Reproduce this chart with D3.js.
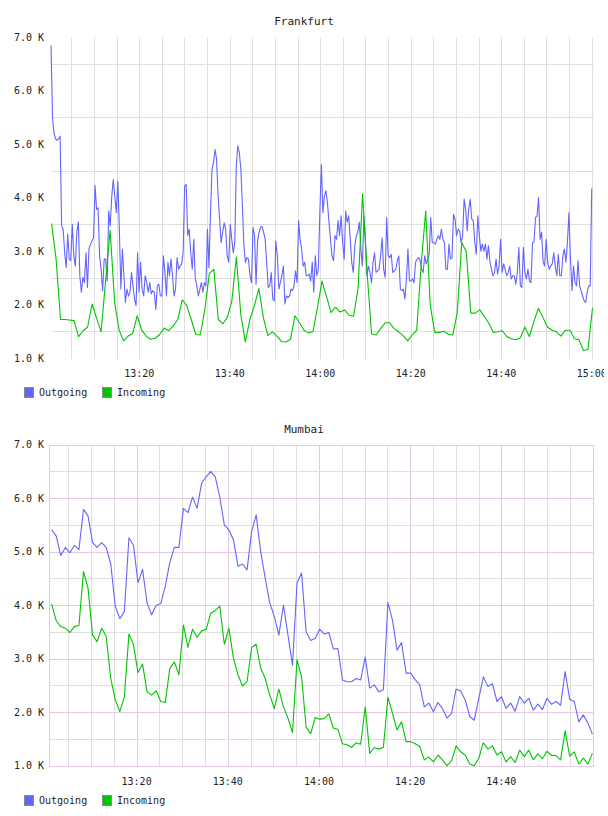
<!DOCTYPE html>
<html>
<head>
<meta charset="utf-8">
<script src="https://cdn.jsdelivr.net/npm/d3@7"></script>
<style>
body { margin: 0; background: #fff; }
svg { display: block; }
text { font-family: "DejaVu Sans Mono", monospace; fill: #222; }
</style>
</head>
<body>
<div class="viz"></div>
<script>
// values in thousands (K)
var seriesNames = ["Outgoing", "Incoming"];
var yTicks = [1, 2, 3, 4, 5, 6, 7];
var fraTicks = ["13:20", "13:40", "14:00", "14:20", "14:40", "15:00"];
var mumTicks = ["13:20", "13:40", "14:00", "14:20", "14:40"];

// first / last sample time of each series, samples evenly spaced in between
var fraOutSpan = ["13:00:30", "15:00:00"];
var fraInSpan = ["13:00:37", "15:00:10"];
var mumSpan = ["13:01:22", "14:59:59"];

var fraOutgoing = [6.85, 5.5, 5.2, 5.1, 5.07, 5.1, 5.15,
  3.47, 3.41, 2.97, 2.69, 3.32, 2.85, 2.82, 3.50, 2.91, 2.72,
  3.35, 3.55, 2.54, 2.23, 2.51, 2.41, 2.97, 2.32, 3.04, 3.13,
  3.19, 3.25, 4.23, 3.78, 3.81, 2.91, 2.66, 2.26, 2.85, 2.85,
  2.44, 3.75, 3.47, 4.03, 4.34, 4.03, 3.72, 4.31, 3.41, 2.29,
  3.04, 2.54, 2.04, 2.29, 2.16, 2.23, 2.60, 2.35, 2.10, 1.98,
  2.97, 2.23, 2.79, 2.29, 2.16, 2.54, 2.41, 2.23, 2.41, 2.20,
  2.26, 2.23, 1.91, 2.35, 2.38, 2.16, 2.16, 2.91, 2.60, 2.16,
  2.79, 2.54, 2.85, 2.54, 2.16, 2.29, 2.88, 2.66, 2.72, 2.76,
  2.97, 4.22, 4.25,
  3.29, 3.41, 2.97, 2.66, 3.22, 2.48, 2.35, 2.16, 2.29, 2.41,
  2.23, 2.41, 2.35, 3.41, 2.69, 3.72, 4.53, 4.66, 4.90, 4.72,
  4.03, 3.60, 3.16, 3.35, 3.53, 3.41, 2.91, 2.79, 3.50, 3.22,
  2.97, 3.16, 4.59, 4.97, 4.84, 4.53, 3.85, 3.10, 2.79, 2.88,
  2.85, 2.54, 2.41, 3.44, 3.29, 2.38, 3.19, 3.35, 3.45, 3.46,
  3.35, 3.22, 2.79, 2.32, 2.35, 2.60, 2.10, 2.07, 3.19, 2.91,
  2.29, 2.41, 2.54, 2.72, 2.01, 2.16, 2.13, 2.16, 2.29, 2.26,
  2.35, 2.63, 2.41, 3.57, 3.22, 3.04, 2.72, 2.79, 2.54, 2.54,
  2.57, 2.44, 2.79, 2.23, 2.91, 2.54, 2.66, 3.72, 4.62, 3.72,
  4.03,
  4.13, 3.91, 3.54, 3.22, 2.91, 2.82, 3.29, 3.22, 3.57, 3.29,
  3.66, 3.16, 2.85, 3.75, 3.54, 3.66, 3.22, 2.79, 2.60, 3.10,
  3.29, 3.35, 3.54, 3.04, 2.72, 3.66, 3.22, 2.54, 2.72, 2.60,
  2.41, 2.79, 2.97, 2.60, 2.63, 2.66, 2.91, 3.25, 2.66, 2.51,
  3.63, 2.91, 2.88, 2.94, 2.60, 2.63, 2.66, 2.82, 2.91, 2.29,
  2.26, 2.29, 2.10, 2.48, 3.04, 2.44, 2.44, 2.48, 2.41, 2.79,
  2.85, 2.88, 2.82, 2.66, 2.60, 2.91, 2.76, 2.85, 2.94, 3.63,
  3.16, 3.16, 3.13, 3.22, 3.29, 3.22, 3.41, 3.22, 3.16, 2.66,
  2.66, 3.13, 2.85, 2.88, 3.69, 3.60, 3.29, 3.41, 3.38,
  3.16, 3.29, 3.97, 3.78, 3.38, 3.78, 3.97, 3.60, 3.57, 3.16,
  2.94, 3.66, 3.29, 3.00, 3.13, 3.00, 3.13, 2.85, 3.10, 2.79,
  2.66, 2.54, 2.60, 2.85, 2.57, 2.72, 3.22, 2.60, 2.76, 2.66,
  2.54, 2.60, 2.72, 2.48, 2.54, 2.54, 2.38, 2.60, 3.07, 2.35,
  2.32, 3.07, 2.60, 2.48, 2.66, 2.44, 2.41, 3.16, 3.17, 3.63,
  3.66, 4.00, 3.22, 3.35, 2.79, 2.72, 3.22, 2.79, 2.66, 2.72,
  2.76, 2.97, 2.72, 2.54, 2.94, 2.54, 2.54, 2.91, 3.04, 2.79,
  3.16, 3.72, 2.85, 2.26, 2.72, 2.41, 2.35, 2.82, 2.35, 2.26,
  2.16, 2.07, 2.04, 2.23, 2.35, 2.35, 4.17];

var fraIncoming = [3.52, 2.86, 1.72, 1.72, 1.71, 1.70, 1.40, 1.51, 1.58, 2.01,
  1.74, 1.49, 2.45, 3.39, 2.04, 1.52, 1.32, 1.41, 1.46, 1.79,
  1.52, 1.41, 1.35, 1.37, 1.44, 1.56, 1.51, 1.60, 1.72, 2.09,
  1.98, 1.72, 1.44, 1.43, 1.90, 2.58, 2.66, 1.72, 1.64, 1.76,
  2.07, 2.89, 1.80, 1.30, 1.72, 1.98, 2.30, 1.75, 1.42, 1.49,
  1.41, 1.31, 1.30, 1.35, 1.79, 1.66, 1.52, 1.47, 1.49, 1.95,
  2.44, 2.15, 1.85, 1.95, 1.86, 1.90, 1.80, 1.78, 2.30, 4.07,
  2.60, 1.45, 1.43, 1.55, 1.66, 1.66, 1.55, 1.49, 1.42, 1.32,
  1.43, 1.52, 2.75, 3.75, 2.00, 1.48, 1.48, 1.50, 1.45, 1.43,
  1.85, 3.16, 2.99, 1.84, 1.84, 1.90, 1.78, 1.65, 1.48, 1.49,
  1.51, 1.40, 1.36, 1.34, 1.38, 1.58, 1.40, 1.68, 1.93, 1.76,
  1.58, 1.52, 1.49, 1.41, 1.52, 1.52, 1.36, 1.34, 1.14, 1.16,
  1.94];

var mumOutgoing = [5.41, 5.29, 4.93, 5.08, 4.98, 5.12, 5.04, 5.79, 5.67, 5.17,
  5.08, 5.17, 5.08, 4.77, 3.98, 3.75, 3.88, 5.26, 5.12, 4.42,
  4.67, 4.04, 3.82, 4.00, 4.03, 4.35, 4.80, 5.08, 5.08, 5.81,
  5.73, 6.02, 5.81, 6.28, 6.40, 6.50, 6.40, 6.02, 5.50, 5.41,
  5.22, 4.73, 4.77, 4.66, 5.37, 5.69, 5.00, 4.50, 4.04, 3.79,
  3.44, 4.00, 3.44, 2.88, 4.42, 4.60, 3.50, 3.34, 3.38, 3.55,
  3.46, 3.49, 3.18, 3.19, 2.60, 2.57, 2.57, 2.63, 2.60, 3.03,
  2.45, 2.51, 2.38, 2.42, 4.05, 3.72, 3.16, 3.30, 2.73, 2.73,
  2.61, 2.51, 2.10, 2.17, 2.01, 2.18, 2.07, 1.89, 1.98, 2.43,
  2.40, 2.23, 1.92, 1.85, 2.26, 2.66, 2.48, 2.53, 2.20, 2.29,
  2.07, 2.17, 2.02, 2.29, 2.17, 2.26, 2.04, 2.15, 2.05, 2.26,
  2.15, 2.20, 2.13, 2.76, 2.24, 2.20, 1.82, 1.95, 1.80, 1.59];

var mumIncoming = [4.02, 3.71, 3.60, 3.57, 3.49, 3.60, 3.62, 4.63, 4.32, 3.44,
  3.32, 3.57, 3.42, 2.63, 2.23, 2.01, 2.29, 3.46, 3.26, 2.74,
  2.90, 2.38, 2.32, 2.40, 2.20, 2.18, 2.82, 2.94, 2.70, 3.63,
  3.21, 3.55, 3.40, 3.52, 3.55, 3.85, 3.90, 3.98, 3.27, 3.57,
  3.01, 2.70, 2.49, 2.57, 3.21, 3.27, 2.82, 2.63, 2.32, 2.07,
  2.43, 2.10, 1.89, 1.62, 2.98, 2.66, 1.72, 1.60, 1.90, 1.87,
  1.88, 1.97, 1.70, 1.68, 1.41, 1.39, 1.34, 1.43, 1.40, 2.10,
  1.23, 1.34, 1.31, 1.34, 2.28, 1.98, 1.67, 1.82, 1.45, 1.45,
  1.41, 1.36, 1.11, 1.16, 1.07, 1.20, 1.11, 1.00, 1.09, 1.37,
  1.26, 1.20, 1.03, 1.00, 1.14, 1.43, 1.31, 1.37, 1.20, 1.26,
  1.07, 1.17, 1.06, 1.29, 1.17, 1.29, 1.11, 1.22, 1.13, 1.27,
  1.19, 1.19, 1.11, 1.65, 1.18, 1.26, 1.03, 1.14, 1.03, 1.23];

var colors = ["#6464ff", "#00c400"];

var parseTime = d3.timeParse("%H:%M:%S"),
    parseTick = d3.timeParse("%H:%M");

var width = 608,
    height = 816;

var svg = d3.select(".viz").append("svg")
    .attr("width", width)
    .attr("height", height);

function samples(values, span) {
    var t = d3.scaleLinear()
        .domain([0, values.length - 1])
        .range([parseTime(span[0]).getTime(), parseTime(span[1]).getTime()]);
    return values.map(function(v, i) {
        return {t: new Date(t(i)), v: v};
    });
}

var charts = [
    {
        title: "Frankfurt", domain: ["13:00:30", "15:00:30"], ticks: fraTicks,
        series: [samples(fraOutgoing, fraOutSpan), samples(fraIncoming, fraInSpan)],
        left: 51, right: 594, top: 37.3, bottom: 358,
        titleY: 25, tickY: 377, legendY: 387, framed: false, clipRight: 604
    },
    {
        title: "Mumbai", domain: ["13:01:00", "15:00:20"], ticks: mumTicks,
        series: [samples(mumOutgoing, mumSpan), samples(mumIncoming, mumSpan)],
        left: 50, right: 594, top: 444.7, bottom: 765.7,
        titleY: 433, tickY: 785, legendY: 795, framed: true, clipRight: 608
    }
];

var minorColor = "#e0dfe0",
    majorColor = "#e4c9e4";

function crisp(v) { return Math.round(v) + 0.5; }

function drawChart(c, n) {
    var g = svg.append("g");

    var x = d3.scaleTime()
        .domain([parseTime(c.domain[0]), parseTime(c.domain[1])])
        .range([c.left, c.right]);

    var y = d3.scaleLinear()
        .domain([1, 7])
        .range([c.bottom, c.top]);

    // grid
    var fiveMin = d3.timeMinute.every(5).range(x.domain()[0], x.domain()[1])
        .filter(function(d) { return x(d) < c.right - 2 || !c.framed; });
    var grid = g.append("g");

    grid.selectAll(".vminor").data(fiveMin).enter().append("line")
        .attr("x1", function(d) { return crisp(x(d)); })
        .attr("x2", function(d) { return crisp(x(d)); })
        .attr("y1", c.top).attr("y2", c.bottom + 1)
        .attr("stroke", function(d) {
            return c.framed && d.getMinutes() % 20 == 0 ? majorColor : minorColor;
        });

    var halfK = d3.range(1.5, 7, 1);
    grid.selectAll(".hminor").data(halfK).enter().append("line")
        .attr("x1", c.left).attr("x2", c.right)
        .attr("y1", function(d) { return crisp(y(d)); })
        .attr("y2", function(d) { return crisp(y(d)); })
        .attr("stroke", minorColor);

    if (c.framed) {
        grid.selectAll(".hmajor").data(yTicks.slice(1, -1)).enter().append("line")
            .attr("x1", c.left).attr("x2", c.right)
            .attr("y1", function(d) { return crisp(y(d)); })
            .attr("y2", function(d) { return crisp(y(d)); })
            .attr("stroke", majorColor);
        grid.append("rect")
            .attr("x", crisp(c.left) - 1).attr("y", crisp(c.top))
            .attr("width", Math.round(c.right - c.left)).attr("height", Math.round(c.bottom - c.top))
            .attr("fill", "none").attr("stroke", majorColor);
    }

    // series
    var line = d3.line()
        .x(function(d) { return x(d.t); })
        .y(function(d) { return y(d.v); });

    c.series.forEach(function(s, i) {
        g.append("path")
            .datum(s)
            .attr("d", line)
            .attr("fill", "none")
            .attr("stroke", colors[i])
            .attr("stroke-width", 1.1)
            .attr("stroke-linejoin", "round");
    });

    // title
    g.append("text")
        .attr("x", 304).attr("y", c.titleY)
        .attr("text-anchor", "middle")
        .style("font-size", "11px")
        .text(c.title);

    // y labels
    g.selectAll(".ylab").data(yTicks).enter().append("text")
        .attr("x", 44)
        .attr("y", function(d) { return y(d) + 3.5; })
        .attr("text-anchor", "end")
        .style("font-size", "10px")
        .text(function(d) { return d3.format(".1f")(d) + " K"; });

    // x labels, clipped to the image edge
    svg.append("clipPath").attr("id", "clip" + n)
        .append("rect").attr("x", 0).attr("y", 0).attr("width", c.clipRight).attr("height", height);

    g.append("g").attr("clip-path", "url(#clip" + n + ")")
        .selectAll("text").data(c.ticks).enter().append("text")
        .attr("x", function(d) { return x(parseTick(d)); })
        .attr("y", c.tickY)
        .attr("text-anchor", "middle")
        .style("font-size", "10px")
        .text(function(d) { return d; });

    // legend
    var legendX = [24, 102];
    seriesNames.forEach(function(name, i) {
        g.append("rect")
            .attr("x", legendX[i] + 0.5).attr("y", c.legendY + 0.5)
            .attr("width", 9).attr("height", 10)
            .attr("fill", colors[i])
            .attr("stroke", "#8a8a8a");
        g.append("text")
            .attr("x", legendX[i] + 15).attr("y", c.legendY + 9)
            .style("font-size", "10px")
            .text(name);
    });
}

charts.forEach(drawChart);
</script>
</body>
</html>
